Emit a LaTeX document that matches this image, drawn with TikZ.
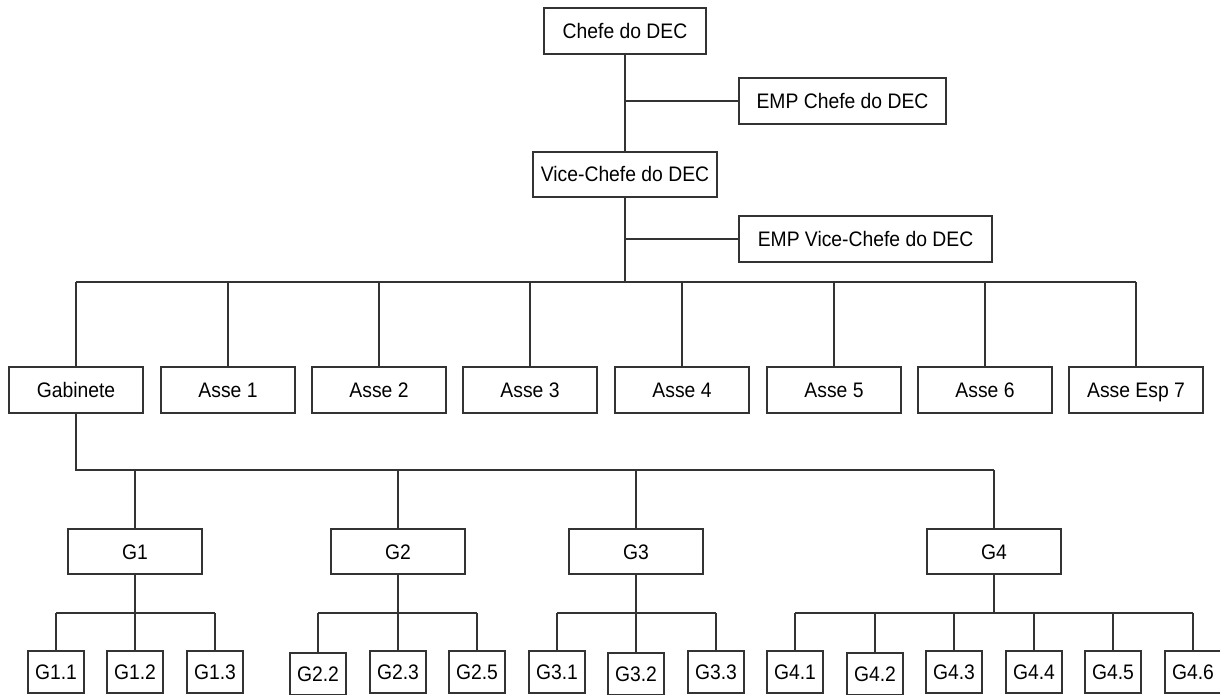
\documentclass[tikz,border=0pt]{standalone}
\usepackage{fontspec}
\setmainfont[FakeStretch=0.92]{Liberation Sans}
\begin{document}
\begin{tikzpicture}[x=1pt,y=-1pt,
  box/.style={draw=black!80, line width=1.3pt, fill=white, inner sep=0pt,
    text height=15pt, text depth=0pt,
    font=\fontsize{21}{25}\selectfont},
  topbox/.style={box, minimum height=46pt},
  midbox/.style={box, minimum width=134pt, minimum height=46pt},
  gbox/.style={box, minimum width=134pt, minimum height=45pt},
  leaf/.style={box, minimum width=56pt, minimum height=42pt},
  conn/.style={draw=black!80, line width=1.3pt}]
\useasboundingbox (0,0) rectangle (1220,695);
\fill[white] (0,0) rectangle (1220,695);
% top
\node[topbox, minimum width=162pt] (chefe) at (625,31) {Chefe do DEC};
\node[topbox, minimum width=207pt] (empc) at (842.5,101) {EMP Chefe do DEC};
\node[box, minimum width=184pt, minimum height=45pt] (vice) at (625,174.5) {Vice-Chefe do DEC};
\node[box, minimum width=253pt, minimum height=46pt] (empv) at (865.5,239) {EMP Vice-Chefe do DEC};
% second row
\node[midbox] (gab) at (76,390) {Gabinete};
\node[midbox] (a1) at (228,390) {Asse 1};
\node[midbox] (a2) at (379,390) {Asse 2};
\node[midbox] (a3) at (530,390) {Asse 3};
\node[midbox] (a4) at (682,390) {Asse 4};
\node[midbox] (a5) at (834,390) {Asse 5};
\node[midbox] (a6) at (985,390) {Asse 6};
\node[midbox] (a7) at (1136,390) {Asse Esp 7};
% G row
\node[gbox] (g1) at (135,551.5) {G1};
\node[gbox] (g2) at (398,551.5) {G2};
\node[gbox] (g3) at (636,551.5) {G3};
\node[gbox] (g4) at (994,551.5) {G4};
% leaves
\node[leaf] (g11) at (56,672) {G1.1};
\node[leaf] (g12) at (135,672) {G1.2};
\node[leaf] (g13) at (215,672) {G1.3};
\node[leaf] (g22) at (318,674) {G2.2};
\node[leaf] (g23) at (398,672) {G2.3};
\node[leaf] (g25) at (477,672) {G2.5};
\node[leaf] (g31) at (557,672) {G3.1};
\node[leaf] (g32) at (636,674) {G3.2};
\node[leaf] (g33) at (716,672) {G3.3};
\node[leaf] (g41) at (795,672) {G4.1};
\node[leaf] (g42) at (875,674) {G4.2};
\node[leaf] (g43) at (954,672) {G4.3};
\node[leaf] (g44) at (1034,672) {G4.4};
\node[leaf] (g45) at (1113,672) {G4.5};
\node[leaf] (g46) at (1193,672) {G4.6};
% connectors
\coordinate (bus) at (625,282);
\coordinate (gbus) at (76,470);
\coordinate (sb) at (0,613);
\draw[conn] (chefe) -- (vice);
\draw[conn] (chefe.south |- empc.west) -- (empc.west);
\draw[conn] (vice.south) -- (bus);
\draw[conn] (vice.south |- empv.west) -- (empv.west);
\draw[conn] (bus -| gab.north) -- (bus -| a7.north);
\foreach \n in {gab,a1,a2,a3,a4,a5,a6,a7}
  \draw[conn] (bus -| \n.north) -- (\n.north);
\draw[conn] (gab.south) -- (gbus) -- (gbus -| g4.north);
\foreach \n in {g1,g2,g3,g4}
  \draw[conn] (gbus -| \n.north) -- (\n.north);
\draw[conn] (g1.south) -- (g1.south |- sb);
\draw[conn] (g2.south) -- (g2.south |- sb);
\draw[conn] (g3.south) -- (g3.south |- sb);
\draw[conn] (g4.south) -- (g4.south |- sb);
\draw[conn] (g11.north |- sb) -- (g13.north |- sb);
\draw[conn] (g22.north |- sb) -- (g25.north |- sb);
\draw[conn] (g31.north |- sb) -- (g33.north |- sb);
\draw[conn] (g41.north |- sb) -- (g46.north |- sb);
\foreach \n in {g11,g12,g13,g22,g23,g25,g31,g32,g33,g41,g42,g43,g44,g45,g46}
  \draw[conn] (\n.north |- sb) -- (\n.north);
\end{tikzpicture}
\end{document}
